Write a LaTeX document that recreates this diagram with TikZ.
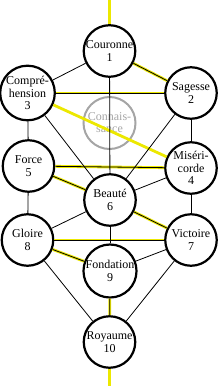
\documentclass[tikz,border=0pt]{standalone}
\usepackage{fontspec}
\setmainfont{Liberation Serif}
\definecolor{flash}{RGB}{236,232,0}
\definecolor{ghost}{RGB}{165,165,165}
\tikzset{
  x=1pt,y=-1pt,
  sefira/.style={circle,draw=black,line width=2.2pt,fill=white,minimum size=51.5pt,inner sep=0pt,align=center,font=\fontsize{12}{12.8}\selectfont},
  hidden/.style={circle,draw=ghost,line width=2pt,minimum size=52pt,inner sep=0pt,align=center,text=ghost,font=\fontsize{12}{12}\selectfont},
  path/.style={line width=0.8pt,draw=black},
  bolt/.style={line width=2.8pt,draw=flash},
  boltoff/.style={bolt,shift={(0.9pt,0.9pt)}}
}
\begin{document}
\begin{tikzpicture}
\useasboundingbox (0,0) rectangle (220,386);
\node[hidden] (daat) at (109.5,123) {Connais-\\sance};
\node[sefira] (keter) at (109.5,51) {Couronne\\1};
\node[sefira] (chokmah) at (191,93) {Sagesse\\2};
\node[sefira] (binah) at (27.5,93) {Compré-\\hension\\3};
\node[sefira] (gevurah) at (28.5,166) {Force\\5};
\node[sefira] (chesed) at (191,168) {Miséri-\\corde\\4};
\node[sefira] (tiferet) at (110,200) {Beauté\\6};
\node[sefira] (hod) at (27.5,240) {Gloire\\8};
\node[sefira] (netzach) at (191,240) {Victoire\\7};
\node[sefira] (yesod) at (110,271) {Fondation\\9};
\node[sefira] (malkuth) at (109.5,342) {Royaume\\10};
\coordinate (top) at (109.5,0);
\coordinate (bottom) at (109.5,386);
% lightning flash
\draw[bolt] (top) -- (keter);
\draw[boltoff] (keter) -- (chokmah);
\draw[boltoff] (chokmah) -- (binah);
\draw[bolt] (binah) -- (chesed);
\draw[boltoff] (chesed) -- (gevurah);
\draw[boltoff] (gevurah) -- (tiferet);
\draw[boltoff] (tiferet) -- (netzach);
\draw[boltoff] (netzach) -- (hod);
\draw[boltoff] (hod) -- (yesod);
\draw[boltoff] (yesod) -- (malkuth);
\draw[bolt] (malkuth) -- (bottom);
% paths
\draw[path] (keter) -- (chokmah);
\draw[path] (keter) -- (binah);
\draw[path] (keter) -- (tiferet);
\draw[path] (chokmah) -- (binah);
\draw[path] (chokmah) -- (chesed);
\draw[path] (chokmah) -- (tiferet);
\draw[path] (binah) -- (gevurah);
\draw[path] (binah) -- (tiferet);
\draw[path] (chesed) -- (gevurah);
\draw[path] (chesed) -- (tiferet);
\draw[path] (chesed) -- (netzach);
\draw[path] (gevurah) -- (tiferet);
\draw[path] (gevurah) -- (hod);
\draw[path] (tiferet) -- (netzach);
\draw[path] (tiferet) -- (hod);
\draw[path] (tiferet) -- (yesod);
\draw[path] (netzach) -- (hod);
\draw[path] (netzach) -- (yesod);
\draw[path] (netzach) -- (malkuth);
\draw[path] (hod) -- (yesod);
\draw[path] (hod) -- (malkuth);
\draw[path] (yesod) -- (malkuth);
\end{tikzpicture}
\end{document}
